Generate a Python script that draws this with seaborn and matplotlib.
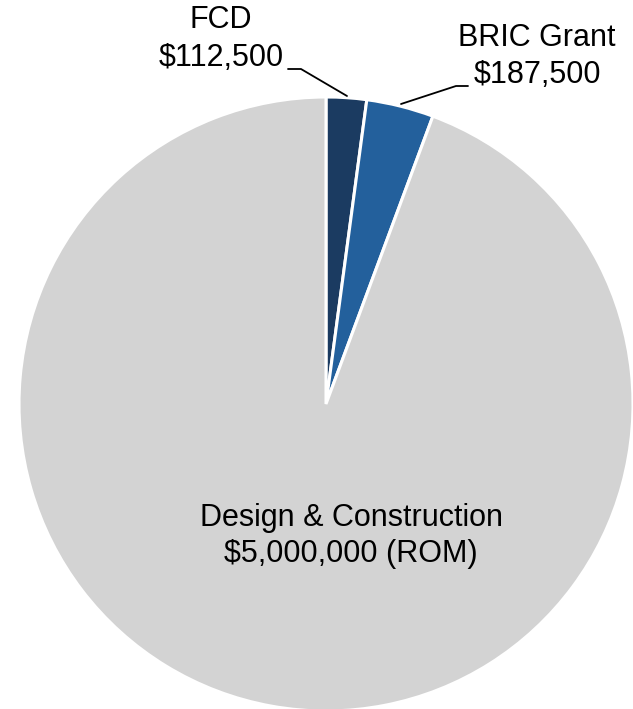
import matplotlib
matplotlib.use("Agg")
import matplotlib.pyplot as plt
import seaborn as sns

sns.set_theme(style="white")
plt.rcParams['font.family'] = ['Liberation Sans', 'DejaVu Sans']

categories = ["FCD", "BRIC Grant", "Design & Construction"]
values = [112500, 187500, 5000000]
value_labels = ["$112,500", "$187,500", "$5,000,000 (ROM)"]
colors = ["#1B3B61", "#23609C", "#D3D3D3"]

W, H = 633, 709
fig = plt.figure(figsize=(W / 100, H / 100), dpi=100)
ax = fig.add_axes([0, 0, 1, 1])

cx, cy, r = 326, H - 404, 307
ax.pie(values, colors=colors, startangle=90, counterclock=False,
       center=(cx, cy), radius=r, frame=True,
       wedgeprops=dict(edgecolor='white', linewidth=2.2))
ax.set_xlim(0, W)
ax.set_ylim(0, H)
ax.set_aspect('equal')
ax.axis('off')

fs = 22
# FCD label
ax.text(221, H - 20, categories[0], ha='center', va='center', fontsize=fs, color='black')
ax.text(221, H - 58, value_labels[0], ha='center', va='center', fontsize=fs, color='black')
ax.plot([288, 301, 347], [H - 69, H - 69, H - 96], color='black', lw=1.3)
# BRIC label
ax.text(537, H - 38, categories[1], ha='center', va='center', fontsize=fs, color='black')
ax.text(537, H - 75, value_labels[1], ha='center', va='center', fontsize=fs, color='black')
ax.plot([401, 456, 468], [H - 104, H - 86, H - 86], color='black', lw=1.3)
# Design label
ax.text(351, H - 518, categories[2], ha='center', va='center', fontsize=fs, color='black')
ax.text(351, H - 554, value_labels[2], ha='center', va='center', fontsize=fs, color='black')

fig.savefig("out.png", dpi=100)
